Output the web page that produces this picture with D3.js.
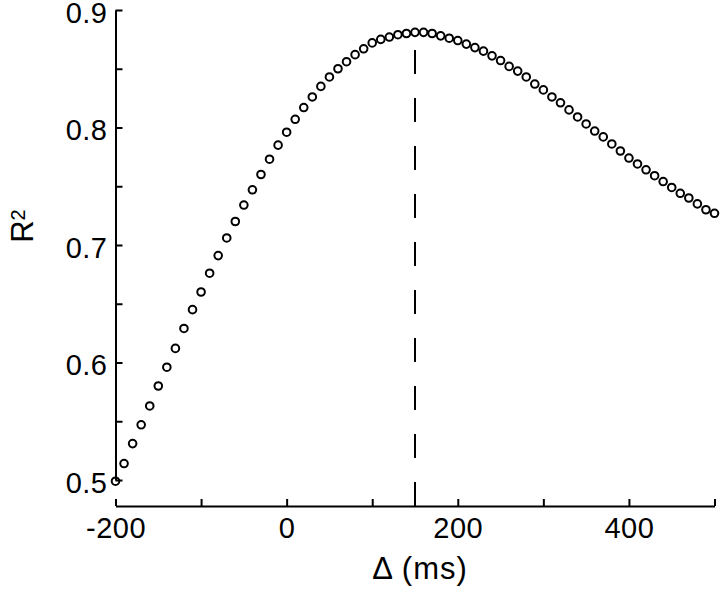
<!DOCTYPE html>
<html>
<head>
<meta charset="utf-8">
<script src="https://cdn.jsdelivr.net/npm/d3@7"></script>
<style>
  body { margin: 0; background: #fff; }
  text { font-family: "Liberation Sans", Arial, sans-serif; }
</style>
</head>
<body>
<div class="canvas"></div>
<script>
const dims = {'width':720, 'height':590};
const margin = {'left':115.5, 'top':10, 'right':5.5, 'bottom':110};

// lag (ms) and R^2
const lags = [-200,-190,-180,-170,-160,-150,-140,-130,-120,-110,
              -100,-90,-80,-70,-60,-50,-40,-30,-20,-10,
              0,10,20,30,40,50,60,70,80,90,
              100,110,120,130,140,150,160,170,180,190,
              200,210,220,230,240,250,260,270,280,290,
              300,310,320,330,340,350,360,370,380,390,
              400,410,420,430,440,450,460,470,480,490,500];
const r2 = [0.499,0.514,0.531,0.547,0.563,0.580,0.596,0.612,0.629,0.645,
            0.660,0.676,0.691,0.706,0.720,0.734,0.747,0.760,0.773,0.785,
            0.796,0.807,0.817,0.826,0.835,0.843,0.850,0.856,0.862,0.867,
            0.872,0.875,0.877,0.879,0.880,0.881,0.881,0.880,0.878,0.876,
            0.874,0.871,0.868,0.865,0.861,0.857,0.852,0.848,0.843,0.837,
            0.832,0.826,0.821,0.815,0.809,0.803,0.797,0.792,0.786,0.780,
            0.774,0.769,0.764,0.759,0.754,0.749,0.744,0.740,0.735,0.730,0.727];
const xTicks = [-200,-100,0,100,200,300,400,500];
const xLabels = [-200,0,200,400];
const yTicks = [0.5,0.55,0.6,0.65,0.7,0.75,0.8,0.85,0.9];
const yLabels = [0.5,0.6,0.7,0.8,0.9];
const peakLag = 150;
const peakLineTop = 0.866;

const w = dims.width - margin.left - margin.right;
const h = 470; // height of the R^2 axis
const xAxisY = 496; // x axis sits below the y range

const svg = d3.select('.canvas')
  .append('svg')
  .attr('width', dims.width)
  .attr('height', dims.height);

const graph = svg.append('g')
  .attr('transform', `translate(${margin.left},${margin.top})`);

const x = d3.scaleLinear().domain([-200, 500]).range([0, w]);
const y = d3.scaleLinear().domain([0.5, 0.9]).range([h, 0]);

// axes
const xAxis = d3.axisBottom(x)
  .tickValues(xTicks)
  .tickFormat(d => xLabels.includes(d) ? d : '')
  .tickSizeInner(-7).tickSizeOuter(0).tickPadding(11);
const yAxis = d3.axisLeft(y)
  .tickValues(yTicks)
  .tickFormat(d => yLabels.some(v => Math.abs(v - d) < 1e-9) ? d3.format('.1f')(d) : '')
  .tickSizeInner(-7).tickSizeOuter(0).tickPadding(8);

const gx = graph.append('g').attr('transform', `translate(0,${xAxisY})`).call(xAxis);
const gy = graph.append('g').call(yAxis);

[gx, gy].forEach(g => {
  g.select('.domain').attr('stroke', '#000').attr('stroke-width', 2);
  g.selectAll('.tick line').attr('stroke', '#000').attr('stroke-width', 2);
  g.selectAll('.tick text').attr('fill', '#000')
    .style('font-size', '29px').style('letter-spacing', '0.5px');
});
gy.selectAll('.tick text').attr('dy', '0.43em');

// dashed line at the peak
graph.append('line')
  .attr('x1', x(peakLag)).attr('x2', x(peakLag))
  .attr('y1', xAxisY).attr('y2', y(peakLineTop))
  .attr('stroke', '#000')
  .attr('stroke-width', 2)
  .attr('stroke-dasharray', '24,24');

// points
graph.selectAll('circle')
  .data(lags.map((d, i) => ({lag: d, v: r2[i]})))
  .enter().append('circle')
  .attr('cx', d => x(d.lag))
  .attr('cy', d => y(d.v))
  .attr('r', 3.8)
  .attr('fill', 'none')
  .attr('stroke', '#000')
  .attr('stroke-width', 2);

// axis labels
svg.append('text')
  .attr('x', 420)
  .attr('y', 579)
  .attr('text-anchor', 'middle')
  .style('font-size', '31px')
  .style('letter-spacing', '1px')
  .text('Δ (ms)');

const yl = svg.append('text')
  .attr('transform', 'translate(33,226) rotate(-90)')
  .attr('text-anchor', 'middle')
  .style('font-size', '31px');
yl.append('tspan').text('R');
yl.append('tspan').attr('dy', '-0.42em').style('font-size', '20px').text('2');
</script>
</body>
</html>
